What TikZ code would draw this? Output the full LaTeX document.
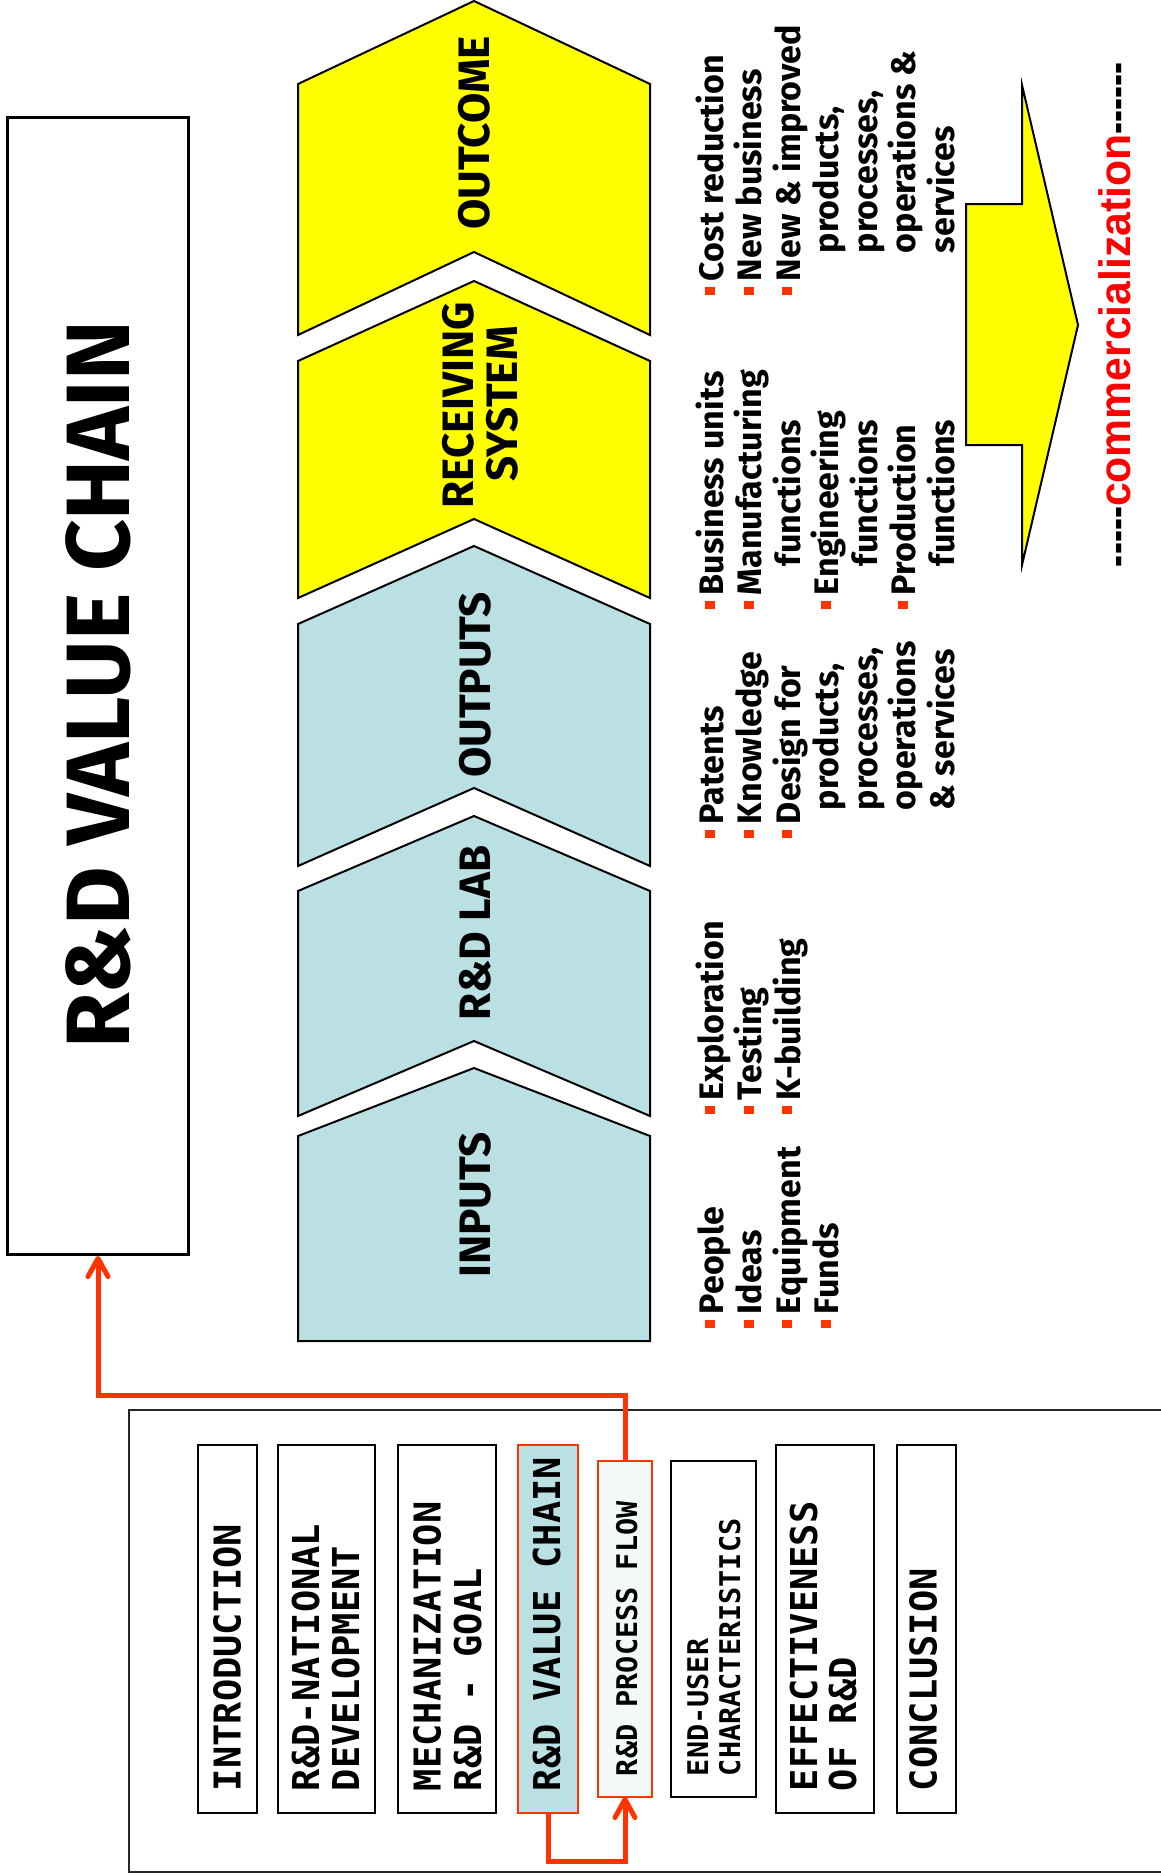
\documentclass[tikz,border=0pt]{standalone}
\usepackage{fontspec}
\setmainfont{Fira Sans}
\newfontfamily\menufont{DejaVu Sans Mono}
\newfontfamily\arialfont{Liberation Sans}
\usetikzlibrary{arrows.meta}
\definecolor{chblue}{HTML}{BBE0E3}
\definecolor{bulred}{HTML}{FF3300}
\definecolor{lightfill}{HTML}{F3F9F9}
\definecolor{chyellow}{HTML}{FFFF00}
\newcommand\bulsq{{\color{bulred}\raisebox{8pt}{\rule{8pt}{10pt}}}\hspace{6pt}}
\newcommand\dsh{\scalebox{0.82}[1]{-}}
\tikzset{
  chev/.style={draw=black, line width=2pt, line join=miter},
  rt/.style={rotate=90, inner sep=0pt, outer sep=0pt, anchor=base west},
  listtxt/.style={rt, font=\bfseries\fontsize{34}{40}\selectfont},
  chevlabel/.style={rotate=90, inner sep=0pt, anchor=base, font=\bfseries\fontsize{44}{50}\selectfont},
  mbox/.style={draw=black, line width=2.5pt, anchor=north west, inner sep=0pt, outer sep=0pt, minimum height=368pt},
  mtxt/.style={rt, font=\menufont\bfseries\fontsize{37}{42}\selectfont},
  mtxtsmall/.style={rt, font=\menufont\bfseries\fontsize{28.5}{34}\selectfont},
  ra/.style={draw=bulred, line width=5pt, line join=miter, -{Straight Barb[length=18pt,width=20pt,round]}}
}
\begin{document}
\begin{tikzpicture}[x=1pt,y=-1pt]
\useasboundingbox (0,0) rectangle (1161,1876);
\fill[white] (0,0) rectangle (1161,1876);

% Title box
\node[draw=black, line width=3pt, anchor=north west, inner sep=0pt, minimum width=181pt, minimum height=1137pt] (titlebox) at (6,116) {};
\node[rotate=90, inner sep=0pt, anchor=base, font=\bfseries\fontsize{90}{100}\selectfont] (titletext) at (129,685) {R\&D VALUE CHAIN};

% Chevrons
\draw[chev, fill=chyellow] (474,1) -- (650,84) -- (650,335) -- (474,252) -- (298,335) -- (298,84) -- cycle;
\draw[chev, fill=chyellow] (474,281) -- (650,361) -- (650,598) -- (474,519) -- (298,598) -- (298,361) -- cycle;
\draw[chev, fill=chblue] (474,546) -- (650,624) -- (650,866) -- (474,788) -- (298,866) -- (298,624) -- cycle;
\draw[chev, fill=chblue] (474,816) -- (650,891) -- (650,1116) -- (474,1041) -- (298,1116) -- (298,891) -- cycle;
\draw[chev, fill=chblue] (474,1068) -- (650,1136) -- (650,1341) -- (298,1341) -- (298,1136) -- cycle;

\node[chevlabel] (lout) at (489,133) {OUTCOME};
\node[chevlabel] (lrec1) at (473,405) {RECEIVING};
\node[chevlabel] (lrec2) at (517,404) {SYSTEM};
\node[chevlabel] (loutp) at (490,685) {OUTPUTS};
\node[chevlabel] (llab) at (490,933) {R\&D LAB};
\node[chevlabel] (linp) at (490,1205) {INPUTS};

% Lists: OUTCOME
\node[listtxt] (o1) at (723,295) {\bulsq Cost reduction};
\node[listtxt] (o2) at (761.5,295) {\bulsq New business};
\node[listtxt] (o3) at (800,295) {\bulsq New \& improved};
\node[listtxt] (o4) at (838.5,253) {products,};
\node[listtxt] (o5) at (877,253) {processes,};
\node[listtxt] (o6) at (915.5,253) {operations \&};
\node[listtxt] (o7) at (954,253) {services};
% RECEIVING
\node[listtxt] (r1) at (723,609) {\bulsq Business units};
\node[listtxt] (r2) at (761.5,609) {\bulsq Manufacturing};
\node[listtxt] (r3) at (800,566) {functions};
\node[listtxt] (r4) at (838.5,609) {\bulsq Engineering};
\node[listtxt] (r5) at (877,566) {functions};
\node[listtxt] (r6) at (915.5,609) {\bulsq Production};
\node[listtxt] (r7) at (954,566) {functions};
% OUTPUTS
\node[listtxt] (p1) at (723,838) {\bulsq Patents};
\node[listtxt] (p2) at (761.5,838) {\bulsq Knowledge};
\node[listtxt] (p3) at (800,838) {\bulsq Design for};
\node[listtxt] (p4) at (838.5,810) {products,};
\node[listtxt] (p5) at (877,810) {processes,};
\node[listtxt] (p6) at (915.5,810) {operations};
\node[listtxt] (p7) at (954,810) {\& services};
% LAB
\node[listtxt] (b1) at (723,1114) {\bulsq Exploration};
\node[listtxt] (b2) at (761.5,1114) {\bulsq Testing};
\node[listtxt] (b3) at (800,1114) {\bulsq K-building};
% INPUTS
\node[listtxt] (i1) at (723,1328) {\bulsq People};
\node[listtxt] (i2) at (761.5,1328) {\bulsq Ideas};
\node[listtxt] (i3) at (800,1328) {\bulsq Equipment};
\node[listtxt] (i4) at (838.5,1328) {\bulsq Funds};

% Big yellow arrow
\draw[chev, fill=chyellow] (966,204) -- (1022,204) -- (1022,85) -- (1078,325) -- (1022,565) -- (1022,445) -- (966,445) -- cycle;

% commercialization
\node[rt, font=\arialfont\bfseries\fontsize{44}{50}\selectfont] (comm) at (1130,567)
  {\dsh\dsh\dsh\dsh\dsh\textcolor{red}{\scalebox{0.97}[1]{commercialization}}\dsh\dsh\dsh\dsh\dsh\dsh};

% Menu frame
\draw[draw=black!85, line width=2.5pt] (1175,1410) -- (129,1410) -- (129,1872) -- (1175,1872);

% Menu boxes
\node[mbox, minimum width=59pt] (m1) at (198,1445) {};
\node[mbox, minimum width=97pt] (m2) at (278,1445) {};
\node[mbox, minimum width=98pt] (m3) at (398,1445) {};
\node[mbox, minimum width=60pt, draw=bulred, fill=chblue] (m4) at (518,1445) {};
\node[mbox, minimum width=54pt, minimum height=336pt, draw=bulred, fill=lightfill] (m5) at (598,1461) {};
\node[mbox, minimum width=85pt, minimum height=336pt] (m6) at (671,1461) {};
\node[mbox, minimum width=98pt] (m7) at (776,1445) {};
\node[mbox, minimum width=59pt] (m8) at (897,1445) {};

\node[mtxt] (t1) at (240.6,1791) {INTRODUCTION};
\node[mtxt] (t2a) at (319,1791) {R\&D-NATIONAL};
\node[mtxt] (t2b) at (359,1791) {DEVELOPMENT};
\node[mtxt] (t3a) at (440.5,1791) {MECHANIZATION};
\node[mtxt] (t3b) at (481,1791) {R\&D - GOAL};
\node[mtxt] (t4) at (560,1791) {R\&D VALUE CHAIN};
\node[mtxtsmall] (t5) at (637,1776) {R\&D PROCESS FLOW};
\node[mtxtsmall] (t6a) at (708,1776) {END-USER};
\node[mtxtsmall] (t6b) at (740,1776) {CHARACTERISTICS};
\node[mtxt] (t7a) at (817,1791) {EFFECTIVENESS};
\node[mtxt] (t7b) at (856,1791) {OF R\&D};
\node[mtxt] (t8) at (936.6,1791) {CONCLUSION};

% Connectors
\coordinate (jn) at (0,1395);
\coordinate (jb) at (0,1861);
\draw[ra] (m5.north) -- (m5.north |- jn) -| (titlebox.south);
\draw[ra] (m4.south) -- (m4.south |- jb) -| (m5.south);
\end{tikzpicture}
\end{document}
